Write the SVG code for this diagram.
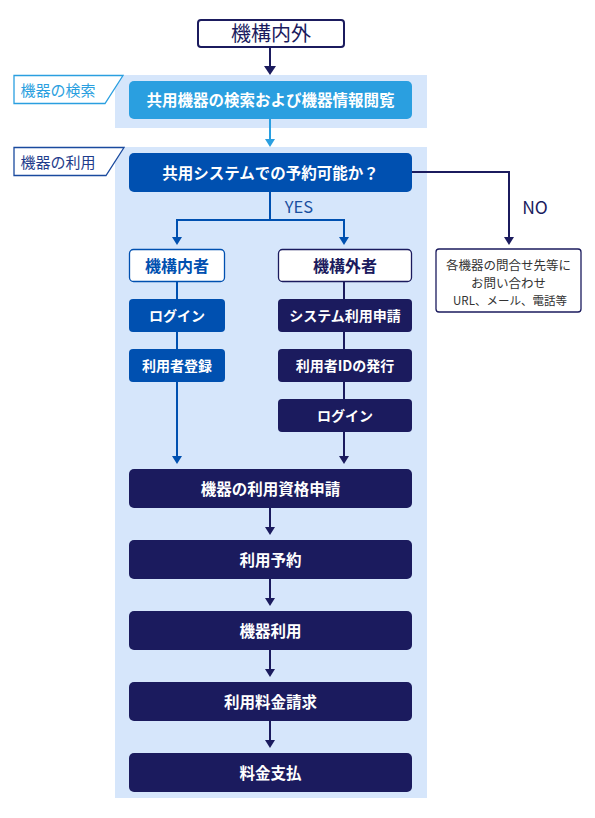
<svg xmlns="http://www.w3.org/2000/svg" width="595" height="818" viewBox="0 0 595 818">
<defs>
<style>
text{font-family:"Noto Sans CJK JP","Noto Sans",sans-serif;text-anchor:middle;dominant-baseline:central}
.band{fill:#d6e6fb}
.navy{fill:#1b1b5e}
.blue{fill:#0050b0}
.wb{fill:#fff;font-size:15.5px;font-weight:bold}
.ws{fill:#fff;font-size:14px;font-weight:bold}
.ln{fill:none;stroke-width:2}
.lnN{stroke:#1b1b5e}
.lnB{stroke:#0050b0}
.lnL{stroke:#2a9fe0}
</style>
</defs>
<rect width="595" height="818" fill="#fff"/>
<rect class="band" x="115" y="75" width="312" height="53"/>
<rect class="band" x="115" y="147" width="312" height="651"/>

<g id="connectors">
<path class="ln lnN" stroke-width="3" d="M270,47 V67"/>
<path d="M264,66 L276,66 L270,75 Z" fill="#1b1b5e"/>
<path class="ln lnL" d="M270,119 V140"/>
<path d="M265,139 L275,139 L270,147 Z" fill="#2a9fe0"/>
<path class="ln lnB" d="M270,192 V220 M177,220 H344 M177,219 V238 M344,219 V238"/>
<path d="M172,237 L182,237 L177,245 Z" fill="#0050b0"/>
<path d="M339,237 L349,237 L344,245 Z" fill="#0050b0"/>
<path class="ln lnN" d="M412,172 H509 V238"/>
<path d="M504,237 L514,237 L509,245 Z" fill="#1b1b5e"/>
<path class="ln lnB" d="M177,282 V457"/>
<path d="M172,456 L182,456 L177,464 Z" fill="#0050b0"/>
<path class="ln lnN" d="M344,282 V457"/>
<path d="M339,456 L349,456 L344,464 Z" fill="#1b1b5e"/>
<path class="ln lnN" d="M270,508 V528 M270,579 V599 M270,650 V670 M270,721 V741"/>
<path d="M265,527 L275,527 L270,535 Z M265,598 L275,598 L270,606 Z M265,669 L275,669 L270,677 Z M265,740 L275,740 L270,748 Z" fill="#1b1b5e"/>
<text x="299" y="206" fill="#1a4fa0" font-size="16.5">YES</text>
<text x="535" y="206" fill="#1b1b5e" font-size="17.5">NO</text>
</g>

<g id="label-search">
<path d="M14,75.5 H123 L105,103.5 H14 Z" fill="#fff" stroke="#2a9fe0" stroke-width="1.3"/>
<text x="58" y="89" fill="#2a9fe0" font-size="15">機器の検索</text>
</g>
<g id="label-use">
<path d="M14,147.5 H124 L106,175.5 H14 Z" fill="#fff" stroke="#1a4a9e" stroke-width="1.3"/>
<text x="58" y="161" fill="#1e3c8c" font-size="15">機器の利用</text>
</g>

<g id="n-top">
<rect x="198" y="20" width="146" height="27" rx="3" fill="#fff" stroke="#1b1b5e" stroke-width="2"/>
<text x="271" y="32.5" fill="#1b1b5e" font-size="20">機構内外</text>
</g>
<g id="n-search">
<rect x="129" y="81" width="283" height="38" rx="5" fill="#2a9fe0"/>
<text class="wb" x="270.5" y="99" font-size="15.3">共用機器の検索および機器情報閲覧</text>
</g>
<g id="n-decision">
<rect x="129" y="153" width="283" height="39" rx="5" class="blue"/>
<text class="wb" x="270.5" y="171.5">共用システムでの予約可能か？</text>
</g>
<g id="n-no">
<rect x="436" y="249" width="145" height="63" rx="3" fill="#fff" stroke="#1b1b5e" stroke-width="1.3"/>
<text x="508.5" y="264.5" fill="#333" font-size="12.5">各機器の問合せ先等に</text>
<text x="508.5" y="282.5" fill="#333" font-size="12.5">お問い合わせ</text>
<text x="510" y="299.5" fill="#333" font-size="11.5">URL、メール、電話等</text>
</g>
<g id="n-inner">
<rect x="129.5" y="249.5" width="95" height="32" rx="4" fill="#fff" stroke="#0050b0" stroke-width="1.3"/>
<text x="177" y="265" fill="#0050b0" font-size="16" font-weight="bold">機構内者</text>
</g>
<g id="n-outer">
<rect x="278.5" y="249.5" width="133" height="32" rx="4" fill="#fff" stroke="#1b1b5e" stroke-width="1.3"/>
<text x="345" y="265" fill="#1b1b5e" font-size="16" font-weight="bold">機構外者</text>
</g>
<g id="n-login1">
<rect x="129" y="299" width="96" height="33" rx="4" class="blue"/>
<text class="ws" x="177" y="314.5">ログイン</text>
</g>
<g id="n-register">
<rect x="129" y="349" width="96" height="33" rx="4" class="blue"/>
<text class="ws" x="177" y="364.5">利用者登録</text>
</g>
<g id="n-sysapply">
<rect x="278" y="299" width="134" height="33" rx="4" class="navy"/>
<text class="ws" x="345" y="314.5">システム利用申請</text>
</g>
<g id="n-idissue">
<rect x="278" y="349" width="134" height="33" rx="4" class="navy"/>
<text class="ws" x="345" y="364.5">利用者IDの発行</text>
</g>
<g id="n-login2">
<rect x="278" y="399" width="134" height="33" rx="4" class="navy"/>
<text class="ws" x="345" y="414.5">ログイン</text>
</g>
<g id="n-qualify">
<rect x="129" y="469" width="283" height="39" rx="5" class="navy"/>
<text class="wb" x="270.5" y="487.5">機器の利用資格申請</text>
</g>
<g id="n-reserve">
<rect x="129" y="540" width="283" height="39" rx="5" class="navy"/>
<text class="wb" x="270.5" y="558.5">利用予約</text>
</g>
<g id="n-use">
<rect x="129" y="611" width="283" height="39" rx="5" class="navy"/>
<text class="wb" x="270.5" y="629.5">機器利用</text>
</g>
<g id="n-bill">
<rect x="129" y="682" width="283" height="39" rx="5" class="navy"/>
<text class="wb" x="270.5" y="700.5">利用料金請求</text>
</g>
<g id="n-pay">
<rect x="129" y="753" width="283" height="39" rx="5" class="navy"/>
<text class="wb" x="270.5" y="771.5">料金支払</text>
</g>
</svg>
